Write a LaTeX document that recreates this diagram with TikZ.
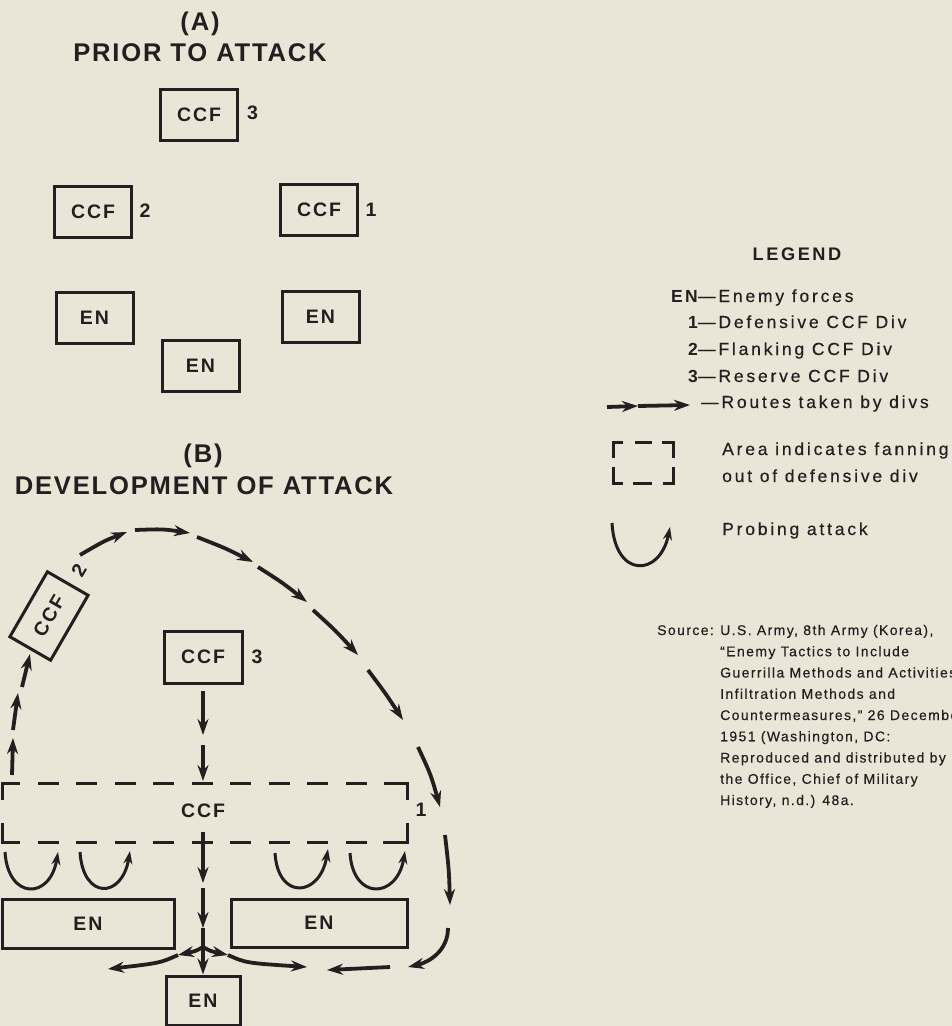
\documentclass[tikz,border=0pt]{standalone}
\usepackage{fontspec}
\setmainfont{Liberation Sans}
\newfontfamily\titlef{Liberation Sans}[LetterSpace=7]
\newfontfamily\boxf{Liberation Sans}[LetterSpace=10]
\newfontfamily\legf{Liberation Sans}[LetterSpace=16,FakeBold=0.4]
\newfontfamily\legbf{Liberation Sans}[LetterSpace=14]
\newfontfamily\srcf{Liberation Sans}[LetterSpace=10,FakeBold=0.3]
\usetikzlibrary{arrows.meta}
\definecolor{paper}{RGB}{234,230,215}
\definecolor{ink}{RGB}{35,31,32}
\begin{document}
\begin{tikzpicture}[x=1pt,y=-1pt,
  every node/.style={text=ink},
  unit/.style={draw=ink, line width=3pt, minimum width=77pt, minimum height=51pt, inner sep=0pt, font=\boxf\bfseries\fontsize{19.5}{20}\selectfont},
  num/.style={font=\boxf\bfseries\fontsize{19.5}{20}\selectfont, inner sep=0pt},
  ttl/.style={font=\titlef\bfseries\fontsize{25.6}{28}\selectfont, inner sep=0pt},
  route/.style={draw=ink, line width=3.8pt, -{Stealth[length=16pt,width=11pt]}},
  probe/.style={draw=ink, line width=3pt, -{Stealth[length=13pt,width=9pt]}},
  area/.style={draw=ink, line width=3pt, line join=miter},
  areadash/.style={draw=ink, line width=3pt, dash pattern=on 21pt off 17.5pt},
  legtext/.style={font=\legf\fontsize{17.5}{19}\selectfont, anchor=base west, inner sep=0pt},
  legkey/.style={font=\legbf\bfseries\fontsize{17.5}{19}\selectfont, anchor=base east, inner sep=0pt},
  src/.style={font=\srcf\fontsize{14}{16}\selectfont, anchor=base west, inner sep=0pt},
]
\fill[paper] (0,0) rectangle (952,1026);
\useasboundingbox (0,0) rectangle (952,1026);

% ---------- (A) ----------
\node[ttl] (ta1) at (200,23.5) {(A)};
\node[ttl] (ta2) at (200,52.5) {PRIOR TO ATTACK};
\node[unit] (a3) at (199,114.5) {CCF};
\node[num] (a3n) at (252.5,113) {3};
\node[unit] (a2) at (93,211.5) {CCF};
\node[num] (a2n) at (145,211) {2};
\node[unit] (a1) at (319,210) {CCF};
\node[num] (a1n) at (371,210) {1};
\node[unit] (aenl) at (94.5,317.5) {EN};
\node[unit] (aenr) at (320.5,316.5) {EN};
\node[unit] (aenb) at (200.5,365.5) {EN};

% ---------- (B) ----------
\node[ttl] (tb1) at (203,456) {(B)};
\node[ttl] (tb2) at (204,486) {DEVELOPMENT OF ATTACK};
\node[unit, minimum width=75pt, minimum height=47pt, rotate=60] (b2) at (49,616) {CCF};
\node[num, rotate=60] (b2n) at (79,570) {2};
\node[unit, minimum width=78pt, minimum height=52pt] (b3) at (203,657) {CCF};
\node[num] (b3n) at (257,657) {3};
\node[num] (b1) at (203,811) {CCF};
\node[num] (b1n) at (421,810) {1};
% dashed area of defensive div
\draw[area] (2,800) -- (2,783) -- (20,783);
\draw[area] (384,783) -- (407,783) -- (407,800);
\draw[area] (407,823) -- (407,842) -- (383,842);
\draw[area] (20,842) -- (2,842) -- (2,823);
\draw[areadash] (37.5,783) -- (366.5,783);
\draw[areadash] (37.5,842) -- (366.5,842);
\node[unit, minimum width=172pt, minimum height=49pt] (benl) at (88,923.5) {EN};
\node[unit, minimum width=176pt, minimum height=48pt] (benr) at (319,923) {EN};
\node[unit, minimum width=74pt, minimum height=49pt] (benb) at (203,1000.5) {EN};

% route coordinates
\coordinate (v1) at (203,735); \coordinate (v2) at (203,745); \coordinate (v3) at (203,781);
\coordinate (c1) at (203,832); \coordinate (c2) at (203,883);
\coordinate (c3) at (203,888); \coordinate (c4) at (203,928);
\coordinate (j1) at (203,947);
\coordinate (l1) at (178,955); \coordinate (l2) at (108,969);
\coordinate (r1) at (228,955); \coordinate (r2) at (307,967);
\coordinate (g1) at (12,775); \coordinate (g2) at (13,738);
\coordinate (g3) at (13,730); \coordinate (g4) at (18,693);
\coordinate (g5) at (22,687); \coordinate (g6) at (30,654);
\coordinate (p1) at (80,555); \coordinate (p2) at (127,532);
\coordinate (p3) at (135,530); \coordinate (p4) at (190,533);
\coordinate (p5) at (197,537); \coordinate (p6) at (253,562);
\coordinate (p7) at (258,567); \coordinate (p8) at (307,602);
\coordinate (p9) at (313,610); \coordinate (p10) at (358,655);
\coordinate (p11) at (368,670); \coordinate (p12) at (403,720);
\coordinate (p13) at (418,747); \coordinate (p14) at (440,807);
\coordinate (p15) at (445,835); \coordinate (p16) at (450,905);
\coordinate (p17) at (448,928); \coordinate (p18) at (408,967);
\coordinate (p19) at (390,967); \coordinate (p20) at (327,970);

% reserve div route
\draw[route, shorten <=6pt] (b3) -- (v1);
\draw[route] (v2) -- (v3);
\draw[route] (c1) -- (c2);
\draw[route] (c3) -- (c4);
\draw[ink, line width=3.8pt] (c4) -- (j1);
\draw[route] (j1) -- (benb);
\draw[route] (j1) .. controls (196,951) .. (l1);
\draw[route] (l1) .. controls (160,963) .. (l2);
\draw[route] (j1) .. controls (210,951) .. (r1);
\draw[route] (r1) .. controls (246,963) .. (r2);
% flanking div route
\draw[route] (g1) -- (g2);
\draw[route] (g3) -- (g4);
\draw[route] (g5) -- (g6);
\draw[route] (p1) .. controls (104,541) .. (p2);
\draw[route] (p3) .. controls (163,529) .. (p4);
\draw[route] (p5) .. controls (225,548) .. (p6);
\draw[route] (p7) .. controls (283,583) .. (p8);
\draw[route] (p9) .. controls (336,631) .. (p10);
\draw[route] (p11) .. controls (386,694) .. (p12);
\draw[route] (p13) .. controls (431,775) .. (p14);
\draw[route] (p15) .. controls (449,870) .. (p16);
\draw[route] (p17) .. controls (448,950) and (430,962) .. (p18);
\draw[route] (p19) -- (p20);
% probing attacks
\coordinate (s1) at (5,852); \coordinate (e1) at (58,852);
\coordinate (s2) at (80,852); \coordinate (e2) at (130,851);
\coordinate (s3) at (275,853); \coordinate (e3) at (328,849);
\coordinate (s4) at (350,853); \coordinate (e4) at (405,851);
\draw[probe] (s1) .. controls (8,900) and (50,900) .. (e1);
\draw[probe] (s2) .. controls (83,900) and (122,899) .. (e2);
\draw[probe] (s3) .. controls (278,901) and (320,897) .. (e3);
\draw[probe] (s4) .. controls (353,901) and (397,899) .. (e4);

% ---------- legend ----------
\node[font=\legbf\bfseries\fontsize{18.2}{20}\selectfont, inner sep=0pt] (lg) at (797,254) {LEGEND};
\node[legkey] (k1) at (698,302) {EN};
\node[legtext] (t1) at (698,302) {—Enemy forces};
\node[legkey] (k2) at (698,328) {1};
\node[legtext] (t2) at (698,328) {—Defensive CCF Div};
\node[legkey] (k3) at (698,355) {2};
\node[legtext] (t3) at (698,355) {—Flanking CCF Div};
\node[legkey] (k4) at (698,382) {3};
\node[legtext] (t4) at (698,382) {—Reserve CCF Div};
\node[legtext] (t5) at (701,408) {—Routes taken by divs};
\coordinate (ka) at (607,407); \coordinate (kb) at (638,406); \coordinate (kc) at (690,405);
\draw[route] (ka) -- (kb);
\draw[route] (kb) -- (kc);
% legend area symbol
\draw[area] (613,458) -- (613,442) -- (623,442);
\draw[area] (662,442) -- (673,442) -- (673,458);
\draw[area] (673,467) -- (673,483) -- (663,483);
\draw[area] (623,483) -- (613,483) -- (613,467);
\draw[area] (635,442) -- (652,442);
\draw[area] (633,483) -- (652,483);
\node[legtext] (t6) at (722,455) {Area indicates fanning};
\node[legtext] (t7) at (722,482) {out of defensive div};
\coordinate (ls) at (612,523); \coordinate (le) at (670,527);
\draw[probe] (ls) .. controls (615,579) and (660,577) .. (le);
\node[legtext] (t8) at (722,535) {Probing attack};

% source
\node[src] (s0) at (657,635) {Source:};
\node[src] (sl1) at (720,635) {U.S. Army, 8th Army (Korea),};
\node[src] (sl2) at (720,656.25) {“Enemy Tactics to Include};
\node[src] (sl3) at (720,677.5) {Guerrilla Methods and Activities,};
\node[src] (sl4) at (720,698.75) {Infiltration Methods and};
\node[src] (sl5) at (720,720) {Countermeasures,” 26 December};
\node[src] (sl6) at (720,741.25) {1951 (Washington, DC:};
\node[src] (sl7) at (720,762.5) {Reproduced and distributed by};
\node[src] (sl8) at (720,783.75) {the Office, Chief of Military};
\node[src] (sl9) at (720,805) {History, n.d.) 48a.};
\end{tikzpicture}
\end{document}
